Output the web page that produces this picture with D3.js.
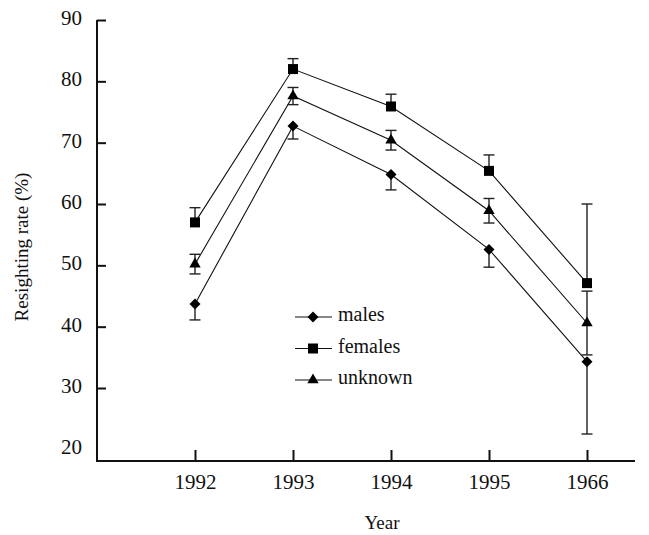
<!DOCTYPE html>
<html>
<head>
<meta charset="utf-8">
<script src="https://cdn.jsdelivr.net/npm/d3@7/dist/d3.min.js"></script>
<style>
  html, body { margin: 0; padding: 0; background: #fff; }
  svg { display: block; }
</style>
</head>
<body>
<svg id="chart" width="649" height="535"></svg>
<script>
// ---- data ----
const years = ["1992", "1993", "1994", "1995", "1966"];
const males = [43.7, 72.7, 64.8, 52.6, 34.3];
const malesErrLow = [2.6, 2.1, 2.5, 2.9, 11.8];      // drawn downward only
const females = [57.0, 82.0, 75.9, 65.4, 47.1];
const femalesErrHigh = [2.4, 1.7, 2.0, 2.6, 12.9];   // drawn upward only
const unknown = [50.2, 77.6, 70.4, 58.9, 40.6];
const unknownErr = [1.6, 1.4, 1.6, 2.0, 5.2];        // drawn both ways
const yTicks = [20, 30, 40, 50, 60, 70, 80, 90];
const seriesNames = ["males", "females", "unknown"];

const FONT = '"Liberation Serif", "Times New Roman", Times, serif';

// ---- layout ----
const svg = d3.select("#chart");
const axisX0 = 97, axisX1 = 635, axisYTop = 20, axisYBottom = 461;

const x = d3.scalePoint().domain(years).range([195, 587]);
const y = d3.scaleLinear().domain([18.1, 90]).range([axisYBottom, axisYTop]);

const series = [
  { name: "males", values: males, lo: malesErrLow, hi: males.map(() => 0), shape: "diamond" },
  { name: "females", values: females, lo: females.map(() => 0), hi: femalesErrHigh, shape: "square" },
  { name: "unknown", values: unknown, lo: unknownErr, hi: unknownErr, shape: "triangle" }
];

function markerPath(shape) {
  if (shape === "diamond") return "M0,-5.5L5.5,0L0,5.5L-5.5,0Z";
  if (shape === "square") return d3.symbol(d3.symbolSquare, 100)();
  return d3.symbol(d3.symbolTriangle, 56)();
}

// axes
const yAxis = d3.axisLeft(y).tickValues(yTicks).tickSize(-9).tickPadding(15).tickFormat(d3.format("d"));
const gy = svg.append("g").attr("transform", `translate(${axisX0},0)`).call(yAxis)
  .attr("font-family", null).attr("font-size", null);
gy.select(".domain").remove();
gy.selectAll(".tick line").attr("stroke", "#111").attr("stroke-width", 2)
  .filter(d => d === 20).remove();
gy.selectAll(".tick text").style("font-family", FONT).style("font-size", "21px")
  .attr("fill", "#111").attr("dy", "0.22em");

const xAxis = d3.axisBottom(x).tickSize(-11).tickPadding(15);
const gx = svg.append("g").attr("transform", `translate(0,${axisYBottom})`).call(xAxis)
  .attr("font-family", null).attr("font-size", null);
gx.select(".domain").remove();
gx.selectAll(".tick line").attr("stroke", "#111").attr("stroke-width", 2);
gx.selectAll(".tick text").style("font-family", FONT).style("font-size", "21px")
  .attr("fill", "#111").attr("dy", "0.62em");

svg.append("line").attr("x1", axisX0).attr("x2", axisX0).attr("y1", axisYTop).attr("y2", axisYBottom + 1)
  .attr("stroke", "#111").attr("stroke-width", 2);
svg.append("line").attr("x1", axisX0 - 1).attr("x2", axisX1).attr("y1", axisYBottom).attr("y2", axisYBottom)
  .attr("stroke", "#111").attr("stroke-width", 2);

// axis titles
svg.append("text").attr("x", x("1994") - 9).attr("y", 529).attr("text-anchor", "middle")
  .style("font-family", FONT).style("font-size", "19px").attr("fill", "#111").text("Year");
svg.append("text").attr("transform", "translate(28,247) rotate(-90)").attr("text-anchor", "middle")
  .style("font-family", FONT).style("font-size", "19px").attr("fill", "#111").text("Resighting rate (%)");

// lines
const line = d3.line().x((d, i) => x(years[i])).y(d => y(d));
series.forEach(s => {
  svg.append("path").attr("d", line(s.values)).attr("fill", "none")
    .attr("stroke", "#111").attr("stroke-width", 1.1);
});

// error bars
const cap = 5.5;
series.forEach(s => {
  s.values.forEach((v, i) => {
    const cx = x(years[i]);
    const top = y(v + s.hi[i]), bot = y(v - s.lo[i]);
    const g = svg.append("g").attr("stroke", "#222").attr("stroke-width", 1.4);
    g.append("line").attr("x1", cx).attr("x2", cx).attr("y1", top).attr("y2", bot);
    if (s.hi[i] > 0) g.append("line").attr("x1", cx - cap).attr("x2", cx + cap).attr("y1", top).attr("y2", top);
    if (s.lo[i] > 0) g.append("line").attr("x1", cx - cap).attr("x2", cx + cap).attr("y1", bot).attr("y2", bot);
  });
});

// markers
series.forEach(s => {
  svg.append("g").selectAll("path").data(s.values).join("path")
    .attr("d", markerPath(s.shape))
    .attr("transform", (d, i) => `translate(${x(years[i])},${y(d)})`)
    .attr("fill", "#000");
});

// legend
const legendX = 295, legendRows = [317, 348.5, 380];
series.forEach((s, k) => {
  const ly = legendRows[k];
  svg.append("line").attr("x1", legendX).attr("x2", legendX + 37).attr("y1", ly).attr("y2", ly)
    .attr("stroke", "#111").attr("stroke-width", 1.2);
  svg.append("path").attr("d", markerPath(s.shape))
    .attr("transform", `translate(${legendX + 18},${ly})`).attr("fill", "#000");
  svg.append("text").attr("x", legendX + 43).attr("y", ly).attr("dy", "0.22em")
    .style("font-family", FONT).style("font-size", "20px").attr("fill", "#111").text(seriesNames[k]);
});
</script>
</body>
</html>
